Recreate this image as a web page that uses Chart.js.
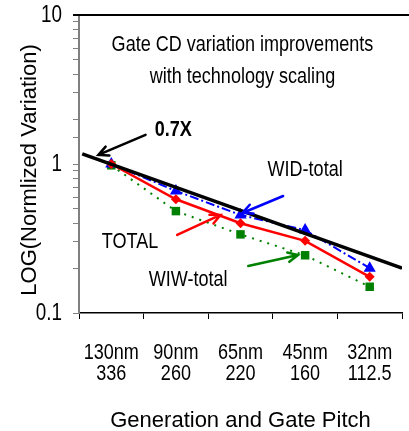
<!DOCTYPE html>
<html>
<head>
<meta charset="utf-8">
<script src="https://cdn.jsdelivr.net/npm/chart.js@4.4.0/dist/chart.umd.min.js"></script>
<style>
  html, body { margin: 0; padding: 0; background: #fff; }
  #wrap { width: 409px; height: 431px; }
</style>
</head>
<body>
<div id="wrap"><canvas id="grafica"></canvas></div>
<script>
// Generaciones y pitch de gate
const categorias = ['130nm', '90nm', '65nm', '45nm', '32nm'];
const pitches = ['336', '260', '220', '160', '112.5'];
const marcasY = [0.1, 1, 10];

// Variación normalizada por generación
const widTotal = [1.0, 0.66, 0.455, 0.36, 0.2];
const total = [1.0, 0.58, 0.40, 0.305, 0.175];
const wiwTotal = [0.98, 0.483, 0.337, 0.244, 0.15];

// Recta de referencia 0.7X por generación
const tendenciaX = [-0.45, 4.5];
const tendenciaY = [1.17, 0.2];

const ARIAL = '"Liberation Sans", Arial, sans-serif';
const ESTRECHO = 0.82; // factor horizontal para imitar Arial Narrow

function puntos(valores) {
  return valores.map((v, i) => ({ x: i, y: v }));
}

// Textos y flechas sobre la gráfica (en coordenadas de datos)
const textos = [
  { x: 2.03, y: 6.29, text: 'Gate CD variation improvements', bold: false },
  { x: 2.03, y: 3.84, text: 'with technology scaling', bold: false },
  { x: 0.96, y: 1.69, text: '0.7X', bold: true },
  { x: 3.0, y: 0.91, text: 'WID-total', bold: false },
  { x: 0.29, y: 0.30, text: 'TOTAL', bold: false },
  { x: 1.19, y: 0.167, text: 'WIW-total', bold: false }
];
const flechas = [
  { x1: 0.53, y1: 1.57, x2: -0.2, y2: 1.15, color: '#000' },
  { x1: 2.66, y1: 0.61, x2: 2.03, y2: 0.469, color: '#0000ff' },
  { x1: 1.02, y1: 0.334, x2: 1.69, y2: 0.455, color: '#ff0000' },
  { x1: 2.12, y1: 0.207, x2: 2.89, y2: 0.245, color: '#008000' }
];

// texto condensado horizontalmente
function textoEstrecho(ctx, txt, x, y, font, align, rot) {
  ctx.save();
  ctx.translate(x, y);
  if (rot) ctx.rotate(rot);
  ctx.scale(ESTRECHO, 1);
  ctx.font = font;
  ctx.textAlign = align || 'center';
  ctx.textBaseline = 'middle';
  ctx.fillStyle = '#000';
  ctx.fillText(txt, 0, 0);
  ctx.restore();
}

const anotaciones = {
  id: 'anotaciones',
  afterDatasetsDraw(chart) {
    const ctx = chart.ctx;
    const sx = chart.scales.x, sy = chart.scales.y;
    const area = chart.chartArea;
    ctx.save();
    // borde superior
    ctx.strokeStyle = '#000';
    ctx.lineWidth = 2;
    ctx.beginPath();
    ctx.moveTo(area.left - 6, area.top);
    ctx.lineTo(chart.width, area.top);
    ctx.stroke();

    flechas.forEach(f => {
      const x1 = sx.getPixelForValue(f.x1), y1 = sy.getPixelForValue(f.y1);
      const x2 = sx.getPixelForValue(f.x2), y2 = sy.getPixelForValue(f.y2);
      const ang = Math.atan2(y2 - y1, x2 - x1);
      ctx.strokeStyle = f.color;
      ctx.lineWidth = 2.5;
      ctx.lineCap = 'round';
      ctx.beginPath();
      ctx.moveTo(x1, y1);
      ctx.lineTo(x2, y2);
      ctx.moveTo(x2 - 11 * Math.cos(ang - 0.45), y2 - 11 * Math.sin(ang - 0.45));
      ctx.lineTo(x2, y2);
      ctx.lineTo(x2 - 11 * Math.cos(ang + 0.45), y2 - 11 * Math.sin(ang + 0.45));
      ctx.stroke();
    });

    // título del eje vertical
    ctx.translate(30, (area.top + area.bottom) / 2 + 6);
    ctx.rotate(-Math.PI / 2);
    ctx.font = '22px ' + ARIAL;
    ctx.fillStyle = '#000';
    ctx.textAlign = 'center';
    ctx.textBaseline = 'middle';
    ctx.fillText('LOG(Normlized Variation)', 0, 0);
    ctx.restore();

    textos.forEach(t => {
      textoEstrecho(ctx, t.text, sx.getPixelForValue(t.x), sy.getPixelForValue(t.y),
        (t.bold ? 'bold ' : '') + '22px ' + ARIAL);
    });

    // etiquetas de los ejes
    categorias.forEach((c, i) => {
      const px = sx.getPixelForValue(i);
      textoEstrecho(ctx, c, px, area.bottom + 40, '22px ' + ARIAL);
      textoEstrecho(ctx, pitches[i], px, area.bottom + 61, '22px ' + ARIAL);
    });
    marcasY.forEach(v => {
      textoEstrecho(ctx, String(v), area.left - 17, sy.getPixelForValue(v) + 1, '23px ' + ARIAL, 'right');
    });
  }
};

new Chart(document.getElementById('grafica'), {
  type: 'line',
  data: {
    datasets: [
      {
        label: '0.7X',
        data: tendenciaX.map((x, i) => ({ x: x, y: tendenciaY[i] })),
        borderColor: '#000',
        borderWidth: 3.5,
        pointRadius: 0
      },
      {
        label: 'TOTAL',
        data: puntos(total),
        borderColor: '#ff0000',
        backgroundColor: '#ff0000',
        borderWidth: 2.5,
        pointStyle: 'rectRot',
        pointRadius: 5,
        pointBorderWidth: 0
      },
      {
        label: 'WID-total',
        data: puntos(widTotal),
        borderColor: '#0000ff',
        backgroundColor: '#0000ff',
        borderWidth: 2,
        borderDash: [9, 3, 2, 3],
        pointStyle: 'triangle',
        pointRadius: 7,
        pointBorderWidth: 0
      },
      {
        label: 'WIW-total',
        data: puntos(wiwTotal),
        borderColor: '#008000',
        backgroundColor: '#008000',
        borderWidth: 2,
        borderDash: [2, 6],
        pointStyle: 'rect',
        pointRadius: 6,
        pointBorderWidth: 0
      }
    ]
  },
  options: {
    responsive: true,
    maintainAspectRatio: false,
    animation: false,
    events: [],
    layout: { padding: { top: 15, right: 7, left: 0, bottom: 0 } },
    plugins: { legend: { display: false }, tooltip: { enabled: false } },
    scales: {
      x: {
        type: 'linear',
        min: -0.5,
        max: 4.5,
        afterBuildTicks: (scale) => { scale.ticks = categorias.map((c, i) => ({ value: i })); },
        afterFit: (scale) => { scale.height = 118; },
        border: { display: true, color: '#000', width: 1.5 },
        grid: { offset: true, drawOnChartArea: false, drawTicks: true, tickLength: 6, color: '#000', lineWidth: 1 },
        ticks: { display: false },
        title: {
          display: true,
          text: 'Generation and Gate Pitch',
          color: '#000',
          font: { family: ARIAL, size: 22, lineHeight: 0.9 },
          padding: { top: 0, bottom: 0 }
        }
      },
      y: {
        type: 'logarithmic',
        min: 0.1,
        max: 10,
        afterFit: (scale) => { scale.width = 79; },
        border: { display: true, color: '#808080', width: 2 },
        grid: { drawOnChartArea: false, drawTicks: true, tickLength: 6, color: '#808080', lineWidth: 1 },
        ticks: { display: false },
        title: { display: false }
      }
    }
  },
  plugins: [anotaciones]
});
</script>
</body>
</html>
